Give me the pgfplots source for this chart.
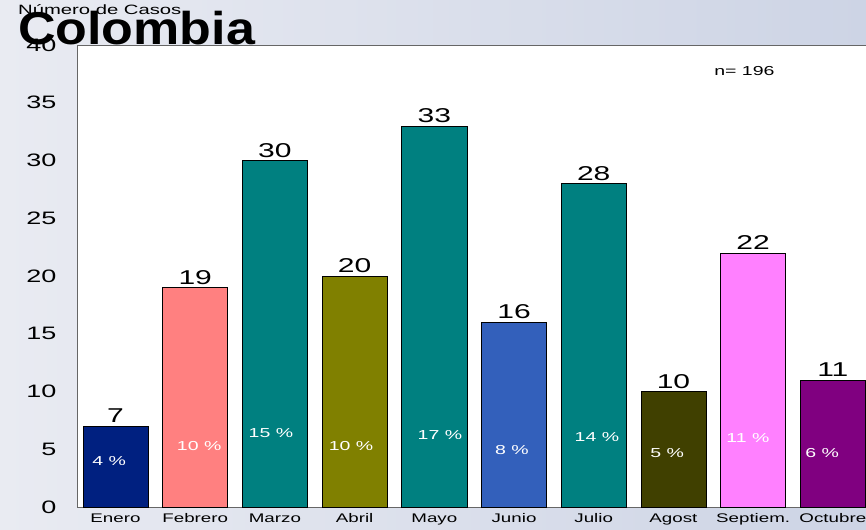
\documentclass[border=0pt]{standalone}
\usepackage{fontspec}
\setmainfont{Liberation Sans}
\newfontfamily\wf[FakeStretch=1.5]{Liberation Sans}
\newfontfamily\tf[FakeStretch=1.13]{Liberation Sans}
\usepackage{pgfplots}
\pgfplotsset{compat=1.18}
\definecolor{bgL}{HTML}{E9EBF2}
\definecolor{bgR}{HTML}{CDD4E5}
\definecolor{cEne}{HTML}{002080}
\definecolor{cFeb}{HTML}{FF8080}
\definecolor{cTeal}{HTML}{008080}
\definecolor{cAbr}{HTML}{808000}
\definecolor{cJun}{HTML}{3360BB}
\definecolor{cAgo}{HTML}{404000}
\definecolor{cSep}{HTML}{FF80FF}
\definecolor{cOct}{HTML}{800080}
\pgfplotsset{
  bl/.style={ybar, bar width=0.816, bar shift=0pt, draw=black, line width=0.6bp,
    nodes near coords,
    every node near coord/.append style={font=\wf\fontsize{20bp}{22bp}\selectfont, text=black, inner sep=3bp}},
}
\begin{document}
\begin{tikzpicture}
\shade[left color=bgL, right color=bgR] (0,0) rectangle (866bp,530bp);
\begin{axis}[
  at={(77bp,23bp)}, anchor=south west,
  scale only axis, width=791.7bp, height=462bp,
  xmin=-0.483, xmax=9.45, ymin=0, ymax=40,
  ytick={0,5,...,40},
  xtick={0,...,9},
  xticklabels={Enero,Febrero,Marzo,Abril,Mayo,Junio,Julio,Agost,Septiem.,Octubre},
  major tick length=0pt,
  axis background/.style={fill=white},
  axis line style={draw=black!60, line width=0.8bp},
  /pgf/number format/assume math mode=true,
  yticklabel style={font=\wf\fontsize{18bp}{20bp}\selectfont, xshift=-17bp, text=black},
  xticklabel style={font=\wf\fontsize{12.5bp}{14bp}\selectfont, yshift=-3bp, text=black},
  clip=false,
]
\addplot[bl, fill=cEne] coordinates {(0,7)};
\addplot[bl, fill=cFeb] coordinates {(1,19)};
\addplot[bl, fill=cTeal] coordinates {(2,30)};
\addplot[bl, fill=cAbr] coordinates {(3,20)};
\addplot[bl, fill=cTeal] coordinates {(4,33)};
\addplot[bl, fill=cJun] coordinates {(5,16)};
\addplot[bl, fill=cTeal] coordinates {(6,28)};
\addplot[bl, fill=cAgo] coordinates {(7,10)};
\addplot[bl, fill=cSep] coordinates {(8,22)};
\addplot[bl, fill=cOct] coordinates {(9,11)};
\addplot[draw=none, mark=none, nodes near coords, point meta=explicit symbolic,
  every node near coord/.append style={anchor=center, text=white, font=\wf\fontsize{13bp}{15bp}\selectfont}]
  table[col sep=comma, row sep=\\, meta=label] {
x,y,label\\
-0.08,3.98,4 \%\\
1.05,5.28,10 \%\\
1.95,6.41,15 \%\\
2.955,5.28,10 \%\\
4.07,6.23,17 \%\\
4.975,4.94,8 \%\\
6.04,6.06,14 \%\\
6.92,4.68,5 \%\\
7.935,5.97,11 \%\\
8.865,4.68,6 \%\\
};
\node[font=\wf\fontsize{13bp}{15bp}\selectfont, anchor=center] at (axis cs:7.89,37.75) {n= 196};
\end{axis}
\node[anchor=base west, font=\wf\fontsize{13.5bp}{16bp}\selectfont, inner sep=0pt] at (18bp,515bp) {Número de Casos};
\node[anchor=base west, font=\tf\bfseries\fontsize{46bp}{50bp}\selectfont, inner sep=0pt] at (18bp,485bp) {Colombia};
\pgfresetboundingbox
\path[use as bounding box] (0,0) rectangle (866bp,530bp);
\end{tikzpicture}
\end{document}
